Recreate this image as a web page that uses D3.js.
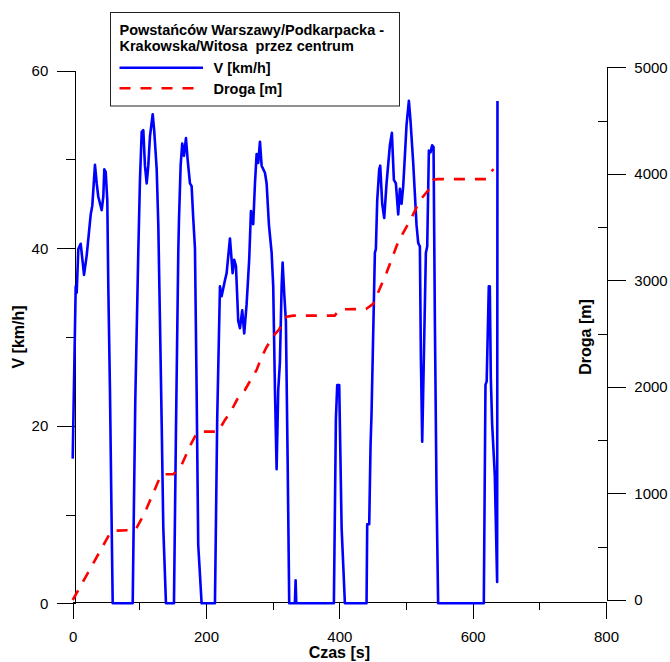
<!DOCTYPE html>
<html>
<head>
<meta charset="utf-8">
<script src="https://cdn.jsdelivr.net/npm/d3@7/dist/d3.min.js"></script>
<style>
  html, body { margin: 0; padding: 0; background: #fff; }
  svg { display: block; font-family: "Liberation Sans", Arial, sans-serif; }
  .ax text { font-size: 15px; fill: #000; }
  .ax path, .ax line { stroke: #000; stroke-width: 1; shape-rendering: crispEdges; }
</style>
</head>
<body>
<svg id="chart" width="670" height="662"></svg>
<script>
// Speed record: time [s] and speed [km/h]
const timeS = [0,0.9,4.5,6,8.4,12,17,21,27,29.4,33.4,36,38.4,43.5,45.9,47.4,49.5,51.9,53.4,55.9,58.5,60,
  90,91.4,93.9,98.4,100.9,103.5,105.9,108.4,111,113.4,115.9,120,122.4,126,128.4,130.9,133.5,135.9,139.9,
  151.9,154.9,158.4,159.4,161.9,164.3,166.9,169.9,172.4,175.9,178.4,180.8,183.4,185.9,188.3,193.4,
  213.4,216.8,220.9,223.4,228.4,230.9,235.9,239.9,242.3,244.9,248.3,250.9,254.3,257.3,260.9,264.8,267.4,
  270.8,273.4,275.9,278.3,280.9,283.4,288.4,290.9,294.3,298.4,300.8,303.4,305.9,308.3,310.8,313.4,314.9,
  317.3,319.8,322.4,324.8,333.3,334.4,335.4,391.8,394.8,396.8,399.8,403.4,408.3,
  440.8,441.8,444.8,446.8,448.3,453.3,454.8,456.8,459.8,461.3,464.3,467.3,470.8,475.8,478.8,481.8,484.8,
  488.3,490.8,493.3,495.8,498.3,500.8,504.3,506.8,510.8,513.3,515.8,518.3,520.8,522.3,524.3,526.8,529.8,
  531.8,534.3,536.8,539.2,541.3,543.3,545.8,548.2,616.7,619.2,621,624.2,625.7,627.2,629.2,633.2,636.7,637.2];
const speedKmh = [16.3,20.2,35.7,35.0,39.9,40.5,37.0,39.2,43.8,44.8,49.4,47.3,45.8,44.3,45.8,48.9,48.6,45.4,35.7,24.0,8.5,0,
  0,8.5,22.9,39.6,47.7,53.1,53.3,49.3,47.3,49.3,52.6,55.1,53.1,48.9,42.7,31.8,20.2,8.5,0,
  0,19.4,39.6,43.1,49.3,51.8,50.4,52.4,50.0,47.3,47.0,43.4,40.0,24.0,6.6,0,
  0,20.9,35.7,34.6,36.4,37.2,41.1,37.2,38.7,38.0,31.8,31.0,33.0,30.4,33.7,38.8,44.2,
  42.7,47.3,50.6,49.6,52.0,49.3,48.5,47.3,42.7,39.5,35.7,24.0,15.1,24.0,27.1,35.7,38.4,
  34.9,31.8,16.3,0,0,2.6,0,0,20.7,24.6,24.6,8.5,0,
  0,8.9,8.9,17.8,21.4,39.5,39.9,45.4,48.9,49.3,45.0,43.4,47.3,51.6,53.0,47.7,47.3,
  43.8,46.7,45.0,47.0,50.4,53.9,56.6,54.3,49.6,46.1,42.6,40.6,40.2,27.8,18.2,27.8,39.5,
  40.2,51.0,50.8,51.6,51.4,31.8,12.4,0,0,24.6,25.0,35.7,35.7,25.4,20.2,14.4,2.4,56.6];

// Distance record: time [s] and distance covered [m]
const distTimeS = [0,10,50,56,60,94,103,111,118.5,126,131,134.4,151,163.4,170,177.4,186,190,218,
  228.4,238.4,246.8,258.4,266.9,275.9,281.9,289.8,299.9,309.8,316,321,331,393,397,401,440,
  450.8,470.8,488.3,508.3,520.8,533.3,540.7,547,620.8,631];
const distanceM = [0,110,560,625,650,657,760,861,970,1080,1150,1180,1180,1267,1361,1464,1564,1580,1580,
  1690,1783,1884,1971,2065,2159,2259,2362,2471,2541,2620,2659,2669,2669,2700,2728,2731,
  2780,3071,3362,3588,3750,3846,3943,3950,3950,4045];

// Axis ticks
const timeTicks = [0, 200, 400, 600, 800];
const timeMinor = [100, 300, 500, 700];
const speedTicks = [0, 20, 40, 60];
const speedMinor = [10, 30, 50];
const distTicks = [0, 1000, 2000, 3000, 4000, 5000];
const distMinor = [500, 1500, 2500, 3500, 4500];

// Texts
const legendTitle = ["Powstańców Warszawy/Podkarpacka -", "Krakowska/Witosa  przez centrum"];
const seriesNames = ["V [km/h]", "Droga [m]"];
const axisTitles = { x: "Czas [s]", left: "V [km/h]", right: "Droga [m]" };

const svg = d3.select("#chart");

const x = d3.scaleLinear().domain([0, 800]).range([72.7, 606]);
const yV = d3.scaleLinear().domain([0, 60]).range([603.3, 70.7]);
const yD = d3.scaleLinear().domain([0, 5000]).range([600, 67.3]);

const axisX0 = 602;   // baseline of the time axis
const axisL = 75.3;   // left axis position
const axisR = 607.3;  // right axis position

// Bottom axis
svg.append("g").attr("class", "ax").attr("transform", `translate(0,${axisX0})`)
  .call(d3.axisBottom(x).tickValues(timeTicks).tickSize(17).tickSizeOuter(0).tickPadding(12).tickFormat(d3.format("d")));
svg.append("g").attr("class", "ax").attr("transform", `translate(0,${axisX0})`)
  .call(d3.axisBottom(x).tickValues(timeMinor).tickSize(8).tickSizeOuter(0).tickFormat(""))
  .call(g => g.select(".domain").remove());

// Left axis
svg.append("g").attr("class", "ax").attr("transform", `translate(${axisL},0)`)
  .call(d3.axisLeft(yV).tickValues(speedTicks).tickSize(18).tickSizeOuter(0).tickPadding(9).tickFormat(d3.format("d")));
svg.append("g").attr("class", "ax").attr("transform", `translate(${axisL},0)`)
  .call(d3.axisLeft(yV).tickValues(speedMinor).tickSize(9).tickFormat(""))
  .call(g => g.select(".domain").remove());

// Right axis
svg.append("g").attr("class", "ax").attr("transform", `translate(${axisR},0)`)
  .call(d3.axisRight(yD).tickValues(distTicks).tickSize(19).tickSizeOuter(0).tickPadding(8).tickFormat(d3.format("d")));
svg.append("g").attr("class", "ax").attr("transform", `translate(${axisR},0)`)
  .call(d3.axisLeft(yD).tickValues(distMinor).tickSize(9).tickFormat(""))
  .call(g => g.select(".domain").remove());

// Axis titles
svg.append("text").attr("x", x(400)).attr("y", 658)
  .attr("text-anchor", "middle").attr("font-size", 16).attr("font-weight", "bold")
  .text(axisTitles.x);
svg.append("text").attr("transform", "translate(24,337) rotate(-90)")
  .attr("text-anchor", "middle").attr("font-size", 16).attr("font-weight", "bold")
  .text(axisTitles.left);
svg.append("text").attr("transform", "translate(591,337) rotate(-90)")
  .attr("text-anchor", "middle").attr("font-size", 16).attr("font-weight", "bold")
  .text(axisTitles.right);

// Speed line
const speedPts = timeS.map((t, i) => [t, speedKmh[i]]);
svg.append("path").datum(speedPts)
  .attr("fill", "none").attr("stroke", "#0000ff").attr("stroke-width", 2.6)
  .attr("stroke-linejoin", "round")
  .attr("d", d3.line().x(d => x(d[0])).y(d => yV(d[1])));

// Distance line
const distPts = distTimeS.map((t, i) => [t, distanceM[i]]);
svg.append("path").datum(distPts)
  .attr("fill", "none").attr("stroke", "#ff0000").attr("stroke-width", 2.6)
  .attr("stroke-dasharray", "11,10")
  .attr("d", d3.line().x(d => x(d[0])).y(d => yD(d[1])));

// Legend
const lg = svg.append("g");
lg.append("rect").attr("x", 110.5).attr("y", 12.5).attr("width", 289).attr("height", 93.5)
  .attr("fill", "#fff").attr("stroke", "#222").attr("stroke-width", 1);
lg.selectAll("text.title").data(legendTitle).join("text").attr("class", "title")
  .attr("x", 119.5).attr("y", (d, i) => 35 + i * 16)
  .attr("font-size", 14.5).attr("font-weight", "bold").style("white-space", "pre")
  .attr("xml:space", "preserve")
  .text(d => d);
const entries = [
  { name: seriesNames[0], color: "#0000ff", dash: null, y: 67.7 },
  { name: seriesNames[1], color: "#ff0000", dash: "11,10", y: 88.3 }
];
entries.forEach(e => {
  lg.append("line").attr("x1", 119.5).attr("x2", 203).attr("y1", e.y).attr("y2", e.y)
    .attr("stroke", e.color).attr("stroke-width", 2.6)
    .attr("stroke-dasharray", e.dash);
  lg.append("text").attr("x", 213.5).attr("y", e.y + 5.2)
    .attr("font-size", 14.5).attr("font-weight", "bold").text(e.name);
});
</script>
</body>
</html>
